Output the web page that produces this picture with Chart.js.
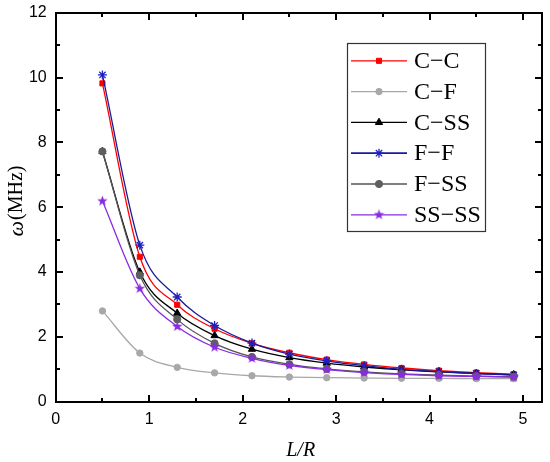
<!DOCTYPE html>
<html>
<head>
<meta charset="utf-8">
<script src="https://cdn.jsdelivr.net/npm/chart.js@4.4.0/dist/chart.umd.min.js"></script>
<style>
html,body{margin:0;padding:0;background:#fff;}
#wrap{width:550px;height:462px;position:relative;}
</style>
</head>
<body>
<div id="wrap"><canvas id="c" width="550" height="462"></canvas></div>
<script>
// ---- data ----
const xValues = [0.5, 0.9, 1.3, 1.7, 2.1, 2.5, 2.9, 3.3, 3.7, 4.1, 4.5, 4.9];
const seriesCC   = [9.82, 4.47, 2.99, 2.25, 1.80, 1.51, 1.30, 1.15, 1.04, 0.96, 0.90, 0.85];
const seriesCF   = [2.80, 1.50, 1.06, 0.89, 0.80, 0.76, 0.74, 0.73, 0.72, 0.72, 0.71, 0.71];
const seriesCSS  = [7.72, 4.00, 2.73, 2.04, 1.62, 1.36, 1.19, 1.07, 0.98, 0.92, 0.87, 0.83];
const seriesFF   = [10.08, 4.83, 3.23, 2.35, 1.81, 1.47, 1.26, 1.11, 1.00, 0.93, 0.87, 0.82];
const seriesFSS  = [7.72, 3.90, 2.54, 1.80, 1.38, 1.15, 1.01, 0.92, 0.86, 0.82, 0.79, 0.77];
const seriesSSSS = [6.19, 3.49, 2.32, 1.68, 1.34, 1.12, 0.99, 0.90, 0.84, 0.80, 0.78, 0.76];
const seriesLabels = ['C\u2212C', 'C\u2212F', 'C\u2212SS', 'F\u2212F', 'F\u2212SS', 'SS\u2212SS'];
const xTicks = [0, 1, 2, 3, 4, 5];
const yTicks = [0, 2, 4, 6, 8, 10, 12];
const xMinorTicks = [0.5, 1.5, 2.5, 3.5, 4.5];
const yMinorTicks = [1, 3, 5, 7, 9, 11];

function makeStar(color, size) {
  const c = document.createElement('canvas');
  c.width = size; c.height = size;
  const g = c.getContext('2d');
  const cx = size / 2, cy = size / 2, ro = size / 2, ri = ro * 0.42;
  g.beginPath();
  for (let i = 0; i < 10; i++) {
    const ang = -Math.PI / 2 + i * Math.PI / 5;
    const rr = i % 2 === 0 ? ro : ri;
    const px = cx + rr * Math.cos(ang), py = cy + rr * Math.sin(ang);
    if (i === 0) g.moveTo(px, py); else g.lineTo(px, py);
  }
  g.closePath();
  g.fillStyle = color;
  g.fill();
  return c;
}
const starImg = makeStar('#8A2BE2', 11);

const toPts = arr => arr.map((v, i) => ({ x: xValues[i], y: v }));

const styles = [
  { line: '#FF0000', fill: '#FF0000', style: 'rect', r: 3.6 },
  { line: '#A8A8A8', fill: '#A8A8A8', style: 'circle', r: 3.2 },
  { line: '#000000', fill: '#000000', style: 'triangle', r: 4.2 },
  { line: '#1A1A9A', fill: '#2020C0', style: 'star', r: 4.5 },
  { line: '#555555', fill: '#5E5E5E', style: 'circle', r: 3.6 },
  { line: '#8A2BE2', fill: '#8A2BE2', style: starImg, r: 5 }
];
const allSeries = [seriesCC, seriesCF, seriesCSS, seriesFF, seriesFSS, seriesSSSS];

const datasets = allSeries.map((s, i) => ({
  label: seriesLabels[i],
  data: toPts(s),
  showLine: true,
  borderColor: styles[i].line,
  borderWidth: 1.3,
  backgroundColor: styles[i].fill,
  pointBackgroundColor: styles[i].fill,
  pointBorderColor: styles[i].fill,
  pointBorderWidth: styles[i].style === 'star' ? 1.3 : 1,
  pointStyle: styles[i].style,
  pointRadius: styles[i].r,
  cubicInterpolationMode: 'monotone',
  order: 6 - i
}));

function drawMarker(ctx, st, x, y) {
  ctx.save();
  ctx.fillStyle = st.fill;
  ctx.strokeStyle = st.fill;
  ctx.lineWidth = st.style === 'star' ? 1.3 : 1;
  if (Chart.helpers && Chart.helpers.drawPoint) {
    Chart.helpers.drawPoint(ctx, { pointStyle: st.style, radius: st.r, borderWidth: ctx.lineWidth, rotation: 0 }, x, y);
  }
  ctx.restore();
}

function drawFrame(chart) {
  const ctx = chart.ctx;
  const xs = chart.scales.x, ys = chart.scales.y;
  const L = Math.round(xs.left), R = Math.round(xs.right), T = Math.round(ys.top), B = Math.round(ys.bottom);
  ctx.save();
  ctx.fillStyle = '#000000';
  ctx.strokeStyle = '#000000';
  ctx.lineWidth = 2;
  ctx.strokeRect(L, T, R - L, B - T);
  ctx.fillRect(L - 1, T - 1, 2, B - T + 2);
  ctx.fillRect(R - 1, T - 1, 2, B - T + 2);
  ctx.fillRect(L - 1, T - 1, R - L + 2, 2);
  ctx.fillRect(L - 1, B - 1, R - L + 2, 2);
  const tw = 2, maj = 7, mnr = 4;
  xTicks.forEach(v => { const px = Math.round(xs.getPixelForValue(v)); ctx.fillRect(px - 1, B - maj, tw, maj); ctx.fillRect(px - 1, T, tw, maj); });
  xMinorTicks.forEach(v => { const px = Math.round(xs.getPixelForValue(v)); ctx.fillRect(px - 1, B - mnr, tw, mnr); ctx.fillRect(px - 1, T, tw, mnr); });
  yTicks.forEach(v => { const py = Math.round(ys.getPixelForValue(v)); ctx.fillRect(L, py - 1, maj, tw); ctx.fillRect(R - maj, py - 1, maj, tw); });
  yMinorTicks.forEach(v => { const py = Math.round(ys.getPixelForValue(v)); ctx.fillRect(L, py - 1, mnr, tw); ctx.fillRect(R - mnr, py - 1, mnr, tw); });
  ctx.restore();
}

const framePlugin = {
  id: 'frame',
  afterDraw(chart) {
    const ctx = chart.ctx;
    drawFrame(chart);
    const xs = chart.scales.x;
    const L = xs.left, R = xs.right;
    ctx.save();
    ctx.fillStyle = '#000';
    ctx.textBaseline = 'middle';
    ctx.font = 'italic 20px "Liberation Serif", serif';
    ctx.textAlign = 'center';
    ctx.fillText('L/R', (L + R) / 2 + 2, 451);
    ctx.save();
    ctx.translate(17, 201);
    ctx.rotate(-Math.PI / 2);
    const f1 = 'italic 22px "Liberation Serif", serif';
    const f2 = '20px "Liberation Serif", serif';
    ctx.font = f1; const w1 = ctx.measureText('\u03c9').width;
    ctx.font = f2; const w2 = ctx.measureText('(MHz)').width;
    const start = -(w1 + w2 + 1) / 2;
    ctx.textAlign = 'left';
    ctx.font = f1; ctx.fillText('\u03c9', start, 0);
    ctx.font = f2; ctx.fillText('(MHz)', start + w1 + 1, 0);
    ctx.restore();

    const lx = 347.5, ly = 43.5, lw = 138, lh = 188;
    ctx.fillStyle = '#fff';
    ctx.fillRect(lx, ly, lw, lh);
    ctx.strokeStyle = '#333';
    ctx.lineWidth = 1.2;
    ctx.strokeRect(lx, ly, lw, lh);
    ctx.font = '24px "Liberation Serif", serif';
    ctx.textAlign = 'left';
    ctx.textBaseline = 'middle';
    chart.data.datasets.forEach((ds, i) => {
      const y = 60.8 + i * 30.8;
      ctx.strokeStyle = styles[i].line;
      ctx.lineWidth = i === 3 ? 1.8 : 1.3;
      ctx.beginPath();
      ctx.moveTo(351, y); ctx.lineTo(407, y);
      ctx.stroke();
      drawMarker(ctx, styles[i], 379, y);
      ctx.fillStyle = '#000';
      ctx.fillText(ds.label, 414, y + 1);
    });
    ctx.restore();
  }
};

new Chart(document.getElementById('c'), {
  type: 'scatter',
  data: { datasets },
  plugins: [framePlugin],
  options: {
    responsive: false,
    animation: false,
    devicePixelRatio: 1,
    layout: { padding: { top: 12.7, right: 8.3, left: 0, bottom: 0 } },
    plugins: { legend: { display: false }, tooltip: { enabled: false } },
    scales: {
      x: {
        type: 'linear', min: 0, max: 5.2,
        grid: { display: false, drawTicks: false },
        border: { display: false },
        afterBuildTicks: s => { s.ticks = xTicks.map(v => ({ value: v })); },
        afterFit: s => { s.height = 60.3; s.paddingLeft = 0; s.paddingRight = 0; },
        ticks: { color: '#000', padding: 8, font: { family: 'Liberation Sans', size: 16 } }
      },
      y: {
        type: 'linear', min: 0, max: 12,
        grid: { display: false, drawTicks: false },
        border: { display: false },
        afterBuildTicks: s => { s.ticks = yTicks.map(v => ({ value: v })); },
        afterFit: s => { s.width = 55.7; s.paddingTop = 0; s.paddingBottom = 0; },
        ticks: { color: '#000', padding: 9, font: { family: 'Liberation Sans', size: 16 } }
      }
    }
  }
});
</script>
</body>
</html>
